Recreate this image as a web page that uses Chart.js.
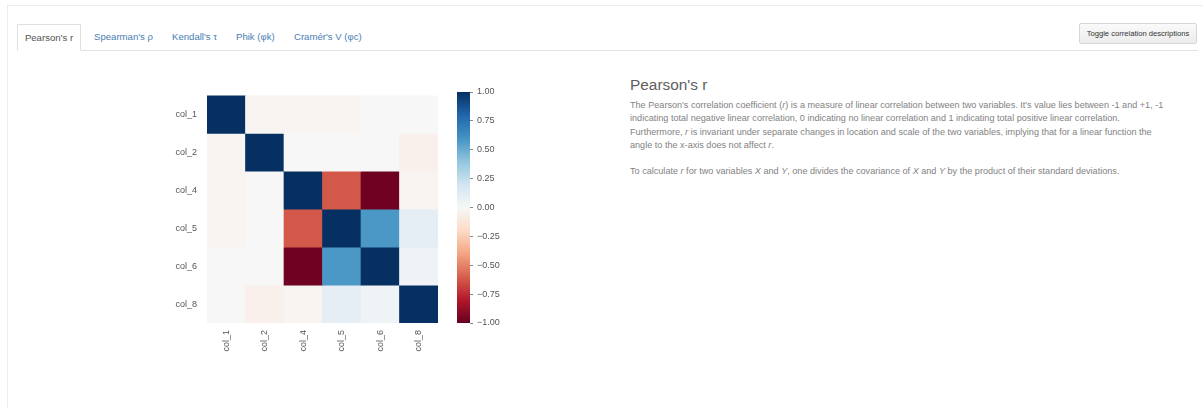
<!DOCTYPE html>
<html>
<head>
<meta charset="utf-8">
<script src="https://cdn.jsdelivr.net/npm/chart.js@4/dist/chart.umd.min.js"></script>
<style>
  html, body { margin: 0; padding: 0; background: #fff; }
  body { width: 1203px; height: 408px; position: relative; overflow: hidden;
         font-family: "Liberation Sans", Arial, Helvetica, sans-serif; }
  .panel { position: absolute; left: 7px; top: 5px; width: 1300px; height: 420px;
           border-top: 1px solid #ececec; border-left: 1px solid #ececec; }
  .navline { position: absolute; left: 17px; top: 50px; width: 1181px; height: 0;
             border-top: 1px solid #e2e2e2; }
  .tab { position: absolute; top: 31px; font-size: 9.6px; color: #4a7db3; white-space: nowrap; }
  .tab.active { top: 24px; left: 17px; width: 64px; height: 27px; box-sizing: border-box;
                border: 1px solid #e0e0e0; border-bottom: 1px solid #fff; background: #fff;
                color: #555; text-align: center; line-height: 26px; }
  .btn { position: absolute; left: 1079px; top: 23px; width: 118px; height: 21px; box-sizing: border-box;
         border: 1px solid #d6d6d6; border-radius: 2px; background: linear-gradient(#fafafa, #ececec);
         font-size: 7.6px; color: #333; text-align: center; line-height: 19px; white-space: nowrap; }
  .title { position: absolute; left: 630px; top: 76px; font-size: 15.4px; color: #5e5e5e; white-space: nowrap; }
  .desc { position: absolute; left: 630px; top: 99px; font-size: 9.1px; line-height: 13.3px;
          color: #828282; white-space: nowrap; }
  #heat { position: absolute; left: 150px; top: 80px; }
  #cbar { position: absolute; left: 440px; top: 80px; }
</style>
</head>
<body>
<div class="panel"></div>
<div class="navline"></div>
<div class="tab active">Pearson's r</div>
<div class="tab" style="left:94px">Spearman's ρ</div>
<div class="tab" style="left:172px">Kendall's τ</div>
<div class="tab" style="left:236px">Phik (φk)</div>
<div class="tab" style="left:294px">Cramér's V (φc)</div>
<div class="btn">Toggle correlation descriptions</div>

<div class="title">Pearson's r</div>
<div class="desc">
The Pearson's correlation coefficient (<i>r</i>) is a measure of linear correlation between two variables. It's value lies between -1 and +1, -1<br>
indicating total negative linear correlation, 0 indicating no linear correlation and 1 indicating total positive linear correlation.<br>
Furthermore, <i>r</i> is invariant under separate changes in location and scale of the two variables, implying that for a linear function the<br>
angle to the x-axis does not affect <i>r</i>.<br>
<br>
To calculate <i>r</i> for two variables <i>X</i> and <i>Y</i>, one divides the covariance of <i>X</i> and <i>Y</i> by the product of their standard deviations.
</div>

<canvas id="heat" width="300" height="290"></canvas>
<canvas id="cbar" width="80" height="260"></canvas>

<script>
// Variable names shared by both axes of the correlation matrix
const variables = ['col_1', 'col_2', 'col_4', 'col_5', 'col_6', 'col_8'];

// Pearson correlation of each variable with every variable (row-wise)
const corrCol1 = [ 1.00, -0.02, -0.02, -0.02,  0.00,  0.00];
const corrCol2 = [-0.02,  1.00,  0.00,  0.00,  0.00, -0.05];
const corrCol4 = [-0.02,  0.00,  1.00, -0.62, -0.98, -0.02];
const corrCol5 = [-0.02,  0.00, -0.62,  1.00,  0.58,  0.10];
const corrCol6 = [ 0.00,  0.00, -0.98,  0.58,  1.00,  0.04];
const corrCol8 = [ 0.00, -0.05, -0.02,  0.10,  0.04,  1.00];
const matrixRows = [corrCol1, corrCol2, corrCol4, corrCol5, corrCol6, corrCol8];

// Colour bar range and tick values
const scaleMin = -1;
const scaleMax = 1;
const colorbarTicks = [-1, -0.75, -0.5, -0.25, 0, 0.25, 0.5, 0.75, 1];

// Diverging red-blue palette (RdBu_r), from -1 to +1
const palette = ['#67001f', '#b2182b', '#d6604d', '#f4a582', '#fddbc7', '#f7f7f7',
                 '#d1e5f0', '#92c5de', '#4393c3', '#2166ac', '#053061'];

function hexToRgb(h) {
  return [parseInt(h.slice(1, 3), 16), parseInt(h.slice(3, 5), 16), parseInt(h.slice(5, 7), 16)];
}
function colorFor(v) {
  const t = Math.max(0, Math.min(1, (v - scaleMin) / (scaleMax - scaleMin))) * (palette.length - 1);
  const i = Math.min(palette.length - 2, Math.floor(t));
  const f = t - i;
  const a = hexToRgb(palette[i]), b = hexToRgb(palette[i + 1]);
  const c = a.map((x, k) => Math.round(x + (b[k] - x) * f));
  return `rgb(${c[0]},${c[1]},${c[2]})`;
}

const labelFont = { family: '"Liberation Sans", Arial, sans-serif', size: 9 };
const labelColor = '#555';

// Heatmap: one floating-bar dataset per row, spanning [row, row + 1] on a reversed linear y axis
new Chart(document.getElementById('heat'), {
  type: 'bar',
  data: {
    labels: variables,
    datasets: matrixRows.map((vals, r) => ({
      label: variables[r],
      data: vals.map(() => [r, r + 1]),
      backgroundColor: vals.map(colorFor),
      borderWidth: 0,
      barPercentage: 1,
      categoryPercentage: 1,
      grouped: false
    }))
  },
  options: {
    responsive: false,
    animation: false,
    layout: { padding: { top: 12, right: 12, left: 0, bottom: 0 } },
    plugins: { legend: { display: false }, tooltip: { enabled: false } },
    scales: {
      x: {
        grid: { display: false, drawTicks: false },
        border: { display: false },
        ticks: { minRotation: 90, maxRotation: 90, autoSkip: false, color: labelColor, font: labelFont, padding: 7 },
        afterFit(s) { s.height = 47; }
      },
      y: {
        type: 'linear',
        min: 0,
        max: variables.length,
        reverse: true,
        grid: { display: false, drawTicks: false },
        border: { display: false },
        afterBuildTicks(s) { s.ticks = variables.map((_, i) => ({ value: i + 0.5 })); },
        ticks: { callback: (v, i) => variables[i], color: labelColor, font: labelFont, padding: 10 },
        afterFit(s) { s.width = 57; }
      }
    }
  }
});

// Colour bar: a single floating bar filled with the palette gradient
new Chart(document.getElementById('cbar'), {
  type: 'bar',
  data: {
    labels: [''],
    datasets: [{
      data: [[scaleMin, scaleMax]],
      borderWidth: 0,
      barPercentage: 1,
      categoryPercentage: 1,
      backgroundColor(ctx) {
        const area = ctx.chart.chartArea;
        if (!area) return palette[5];
        const g = ctx.chart.ctx.createLinearGradient(0, area.bottom, 0, area.top);
        palette.forEach((c, i) => g.addColorStop(i / (palette.length - 1), c));
        return g;
      }
    }]
  },
  options: {
    responsive: false,
    animation: false,
    layout: { padding: { top: 12, right: 0, left: 17, bottom: 17 } },
    plugins: { legend: { display: false }, tooltip: { enabled: false } },
    scales: {
      x: { display: false },
      y: {
        position: 'right',
        min: scaleMin,
        max: scaleMax,
        border: { display: false },
        grid: { drawOnChartArea: false, drawTicks: true, tickLength: 3, color: '#888' },
        afterBuildTicks(s) { s.ticks = colorbarTicks.map(v => ({ value: v })); },
        ticks: {
          callback: v => v.toFixed(2).replace('-', '\u2212'),
          color: labelColor, font: labelFont, padding: 4
        },
        afterFit(s) { s.width = 50; }
      }
    }
  }
});
</script>
</body>
</html>
